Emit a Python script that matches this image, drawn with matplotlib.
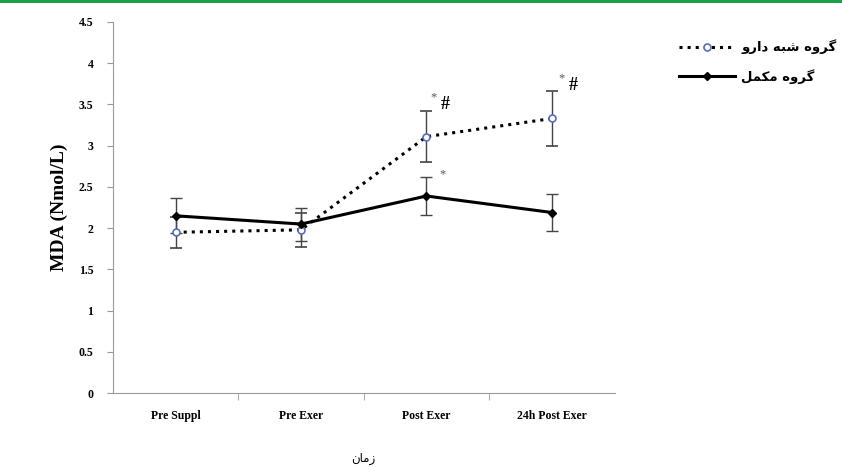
import matplotlib.pyplot as plt
import matplotlib.patches as mpatches
from matplotlib.lines import Line2D
import numpy as np

# data
times = ['Pre Suppl', 'Pre Exer', 'Post Exer', '24h Post Exer']
placebo = [1.95, 1.98, 3.11, 3.33]
placebo_err = [0.19, 0.21, 0.31, 0.33]
suppl = [2.15, 2.05, 2.39, 2.19]
suppl_err = [0.21, 0.20, 0.23, 0.23]
yticks = [0, 0.5, 1, 1.5, 2, 2.5, 3, 3.5, 4, 4.5]

# persian labels, pre-shaped (presentation forms, visual order)
lbl_placebo = '\uFEED\uFEAD\uFE8D\uFEA9 \uFEEA\uFE92\uFEB7 \uFEE9\uFEED\uFEAE\uFB94'
lbl_suppl = '\uFEDE\uFEE4\uFB91\uFEE3 \uFEE9\uFEED\uFEAE\uFB94'
lbl_time = '\uFEE5\uFE8E\uFEE3\uFEAF'

plt.rcParams['font.family'] = ['Liberation Serif', 'DejaVu Sans']

fig = plt.figure(figsize=(8.42, 4.68), dpi=100)
ax = fig.add_axes([0.134, 0.160, 0.596, 0.793])
x = np.arange(len(times))

p_style = dict(color='black', ls=':', lw=2.2, marker='o', ms=5,
               mfc='white', mec='#5a6cc0', mew=1.2)
s_style = dict(color='black', ls='-', lw=2.2, marker='D', ms=4,
               mfc='black', mec='black')

ax.errorbar(x, placebo, yerr=placebo_err, ecolor='#444444', elinewidth=1,
            capsize=4, capthick=1, zorder=3, **p_style)
ax.errorbar(x, suppl, yerr=suppl_err, ecolor='#444444', elinewidth=1,
            capsize=4, capthick=1, zorder=3, **s_style)

# significance marks
ax.text(2.06, 3.55, '*', fontsize=9, color='#555555', ha='center')
ax.text(2.15, 3.45, '#', fontsize=13, ha='center', fontweight='bold')
ax.text(3.08, 3.78, '*', fontsize=9, color='#555555', ha='center')
ax.text(3.17, 3.68, '#', fontsize=13, ha='center', fontweight='bold')
ax.text(2.13, 2.62, '*', fontsize=9, color='#555555', ha='center')

ax.set_xlim(-0.5, 3.5)
ax.set_ylim(0, 4.5)
ax.set_yticks(yticks)
ax.set_yticklabels([('%g' % v) for v in yticks], fontsize=8.5, fontweight='bold')
ax.set_xticks(x)
ax.set_xticklabels(times, fontsize=8.5, fontweight='bold')
ax.set_xticks([0.5, 1.5, 2.5], minor=True)
ax.tick_params(axis='x', which='major', length=0, pad=12)
ax.tick_params(axis='x', which='minor', length=5, color='#999999')
ax.tick_params(axis='y', length=4, color='#999999', pad=10)
for s in ['top', 'right']:
    ax.spines[s].set_visible(False)
for s in ['left', 'bottom']:
    ax.spines[s].set_color('#999999')

ax.set_ylabel('MDA (Nmol/L)', fontsize=14, fontweight='bold', labelpad=8)
ax.set_xlabel(lbl_time, fontsize=8.5, labelpad=22, family='DejaVu Sans')

handles = [Line2D([], [], **p_style), Line2D([], [], **s_style)]
ax.legend(handles, [lbl_placebo, lbl_suppl], loc='upper left',
          bbox_to_anchor=(1.105, 0.985), frameon=False, numpoints=1,
          prop={'family': 'DejaVu Sans', 'size': 9.5, 'weight': 'bold'},
          handlelength=4.2, handletextpad=0.5, labelspacing=1.1)

# green strip at top
fig.add_artist(mpatches.Rectangle((0, 0.994), 1, 0.006, transform=fig.transFigure,
                                  color='#1aa04a', lw=0))

fig.savefig('out.png', dpi=100)
